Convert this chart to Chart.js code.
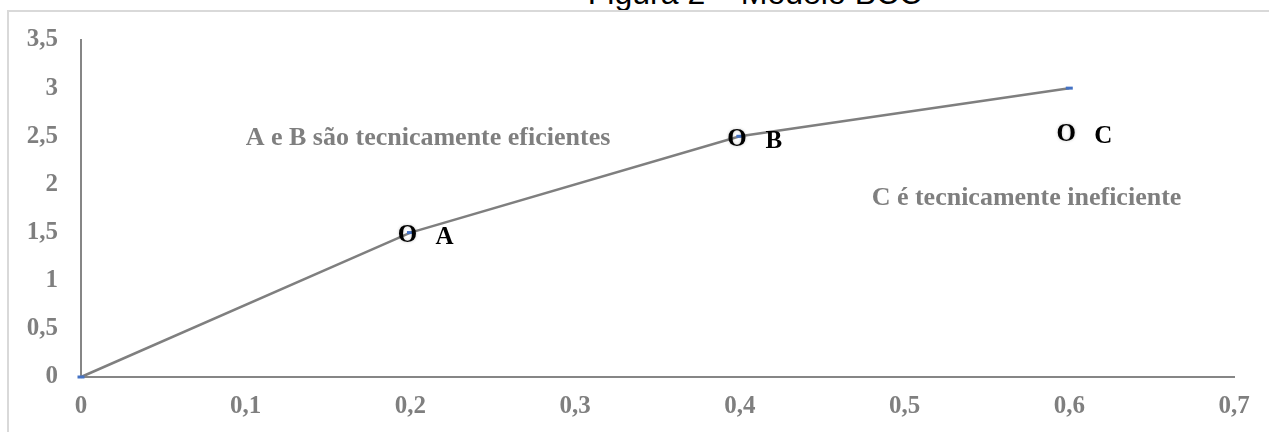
<!DOCTYPE html>
<html lang="pt">
<head>
    <meta charset="UTF-8">
    <title>Figura 2 – Modelo BCC</title>
    <script src="https://cdn.jsdelivr.net/npm/chart.js"></script>
    <style>
        body { margin: 0; background: #fff; width: 1269px; height: 432px; overflow: hidden; position: relative; }
        .caption {
            position: absolute; left: 0; width: 1510px; top: -23px;
            text-align: center; font-family: 'Liberation Sans', Arial, sans-serif;
            font-size: 32px; line-height: 32px; color: #000;
        }
        .frame {
            position: absolute; left: 7px; top: 10px; width: 1500px; height: 600px;
            border-left: 2px solid #d9d9d9; border-top: 2px solid #d9d9d9;
        }
        #chart { position: absolute; left: 0; top: 0; }
    </style>
</head>
<body>
    <div class="caption">Figura 2 – Modelo BCC</div>
    <div class="frame"></div>
    <canvas id="chart" width="1269" height="432"></canvas>

<script>
// fronteira BCC
const frontierX = [0, 0.2, 0.4, 0.6];
const frontierY = [0, 1.5, 2.5, 3];

// DMUs
const dmuNames = ['A', 'B', 'C'];
const dmuX = [0.2, 0.4, 0.6];
const dmuY = [1.5, 2.5, 2.55];

// textos do gráfico
const noteTexts = ['A e B são tecnicamente eficientes', 'C é tecnicamente ineficiente'];
const noteX = [0.1, 0.48];
const noteY = [2.41, 1.79];

const xTicks = [0, 0.1, 0.2, 0.3, 0.4, 0.5, 0.6, 0.7];
const yTicks = [0, 0.5, 1, 1.5, 2, 2.5, 3, 3.5];

const gray = '#7f7f7f';
const tickFont = { family: "'Liberation Serif', 'Times New Roman', serif", size: 25, weight: 'bold' };

function fmt(v) {
    return String(Math.round(v * 10) / 10).replace('.', ',');
}

const labelsPlugin = {
    id: 'dmuLabels',
    afterDatasetsDraw(chart) {
        const ctx = chart.ctx;
        const xs = chart.scales.x, ys = chart.scales.y;
        ctx.save();
        ctx.fillStyle = gray;
        ctx.font = "bold 26px 'Liberation Serif', 'Times New Roman', serif";
        ctx.textAlign = 'left';
        ctx.textBaseline = 'alphabetic';
        noteTexts.forEach(function(t, i) {
            ctx.fillText(t, xs.getPixelForValue(noteX[i]), ys.getPixelForValue(noteY[i]));
        });
        ctx.fillStyle = '#000';
        ctx.textBaseline = 'middle';
        dmuNames.forEach(function(n, i) {
            const px = xs.getPixelForValue(dmuX[i]);
            const py = ys.getPixelForValue(dmuY[i]);
            ctx.textAlign = 'center';
            ctx.shadowColor = 'rgba(0,0,0,0.25)';
            ctx.shadowBlur = 3;
            ctx.font = "bold 25px 'Liberation Serif', 'Times New Roman', serif";
            ctx.fillText('O', px - 3, py + 3);
            ctx.shadowBlur = 0;
            ctx.shadowColor = 'transparent';
            ctx.font = "bold 25px 'Liberation Serif', 'Times New Roman', serif";
            ctx.fillText(n, px + 34, py + 5);
        });
        ctx.restore();
    }
};

new Chart(document.getElementById('chart'), {
    type: 'scatter',
    data: {
        datasets: [{
            data: frontierX.map((x, i) => ({ x: x, y: frontierY[i] })),
            showLine: true,
            clip: false,
            borderColor: '#7f7f7f',
            borderWidth: 2.5,
            pointStyle: 'line',
            pointRadius: 3.5,
            pointBorderColor: '#4472c4',
            pointBorderWidth: 3,
            tension: 0
        }]
    },
    options: {
        responsive: false,
        animation: false,
        layout: { padding: { top: 40, right: 35, left: 0, bottom: 0 } },
        plugins: { legend: { display: false }, tooltip: { enabled: false } },
        scales: {
            x: {
                type: 'linear', min: 0, max: 0.7,
                afterBuildTicks: s => { s.ticks = xTicks.map(v => ({ value: v })); },
                afterFit: s => { s.height = 55; },
                grid: { display: false, drawTicks: false },
                border: { display: true, color: '#868686', width: 2 },
                ticks: { color: gray, font: tickFont, padding: 15, callback: fmt, maxRotation: 0 }
            },
            y: {
                type: 'linear', min: 0, max: 3.5,
                afterBuildTicks: s => { s.ticks = yTicks.map(v => ({ value: v })); },
                afterFit: s => { s.width = 81; },
                grid: { display: false, drawTicks: false },
                border: { display: true, color: '#868686', width: 2 },
                ticks: { color: gray, font: tickFont, padding: 23, callback: fmt }
            }
        }
    },
    plugins: [labelsPlugin]
});
</script>
</body>
</html>
